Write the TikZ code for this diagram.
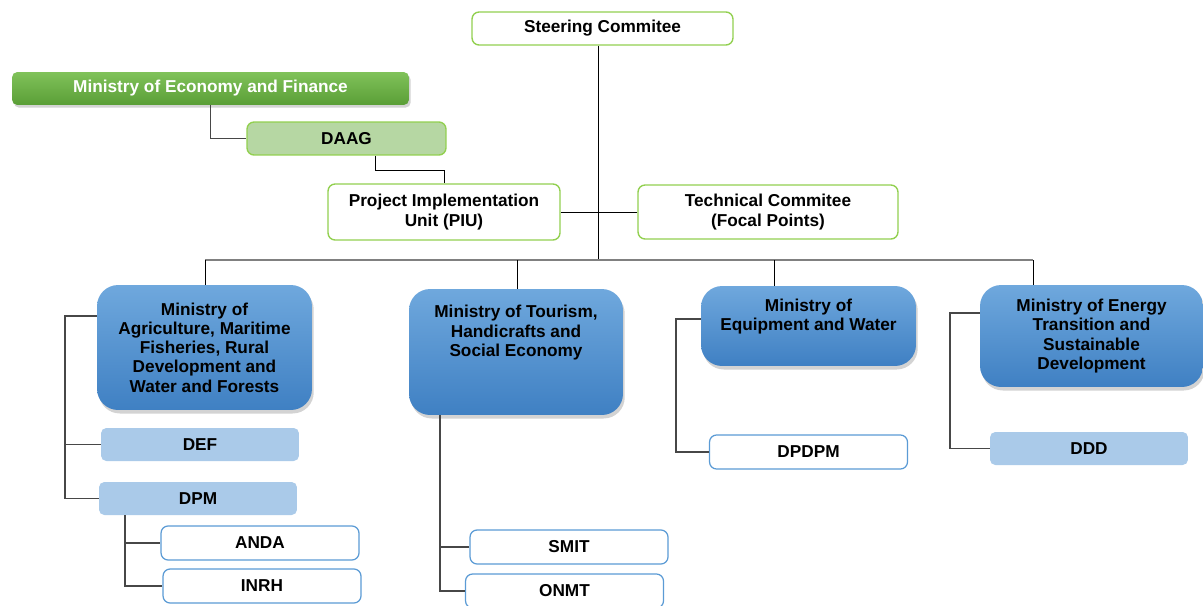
\documentclass[tikz,border=0pt]{standalone}
\usepackage{fontspec}
\setmainfont{Liberation Sans}
\usepackage{tikz}
\usetikzlibrary{shadows}

\definecolor{leaf}{HTML}{92D050}
\definecolor{leafpale}{HTML}{B6D7A3}
\definecolor{leaftop}{HTML}{80C25A}
\definecolor{leafbot}{HTML}{5A9E36}
\definecolor{skytop}{HTML}{6FA8DD}
\definecolor{skybot}{HTML}{3F80C3}
\definecolor{skypale}{HTML}{AACAE9}
\definecolor{skyline}{HTML}{5B9BD5}
\definecolor{wiregray}{HTML}{474747}

\tikzset{
orgtext/.style = {font=\fontsize{9.8}{11}\selectfont\bfseries, align=center},
greenbox/.style = {rectangle, rounded corners=4pt, draw=leaf, line width=0.8pt,
                   fill=white, inner sep=0pt, minimum width=#1, orgtext},
greenbox/.default = 4cm,
topbox/.style = {rectangle, rounded corners=3pt, draw=none, inner sep=0pt,
                 top color=leaftop, bottom color=leafbot, text=white,
                 drop shadow={shadow xshift=1pt, shadow yshift=-1.5pt, opacity=0.35},
                 minimum width=#1, orgtext},
ministry/.style = {rectangle, rounded corners=12pt, draw=none, inner sep=0pt,
                   top color=skytop, bottom color=skybot,
                   drop shadow={shadow xshift=1pt, shadow yshift=-2pt, opacity=0.35},
                   minimum width=#1, orgtext},
ministry/.default = 4.3cm,
dept/.style = {rectangle, rounded corners=3pt, fill=skypale, inner sep=0pt,
               minimum width=3.96cm, minimum height=0.66cm, orgtext},
office/.style = {rectangle, rounded corners=4pt, draw=skyline, line width=0.7pt,
                 fill=white, inner sep=0pt,
                 minimum width=3.96cm, minimum height=0.68cm, orgtext},
link/.style = {draw=wiregray, line width=1.1pt},
wire/.style = {draw=black, line width=0.5pt},
bus/.style = {draw=gray, line width=0.9pt}
}

\begin{document}
\begin{tikzpicture}[x=0.02cm, y=-0.02cm]
  \useasboundingbox (0,0) rectangle (1203,605);

  % Top of the chart
    \node[greenbox=5.22cm, minimum height=0.66cm] (steer) at (602.5,28.5) {Steering Commitee};
    \node[topbox=7.94cm, minimum height=0.66cm] (econ) at (210.5,88.5) {Ministry of Economy and Finance};
    \node[greenbox=3.98cm, minimum height=0.66cm, fill=leafpale] (daag) at (346.5,138.5) {DAAG};
    \node[greenbox=4.64cm, minimum height=1.12cm] (piu) at (444,212) {Project Implementation\\Unit (PIU)};
    \node[greenbox=5.2cm, minimum height=1.08cm] (tech) at (768,212) {Technical Commitee\\(Focal Points)};

  % Ministries
    \node[ministry, minimum height=2.5cm] (agri) at (204.5,347.5)
      {Ministry of\\Agriculture, Maritime\\Fisheries, Rural\\Development and\\Water and Forests};
    \node[ministry=4.28cm, minimum height=2.52cm,
          label={[orgtext, anchor=north, yshift=-6pt]north:{Ministry of Tourism,\\Handicrafts and\\Social Economy}}]
      (tour) at (516,352) {};
    \node[ministry, minimum height=1.6cm,
          label={[orgtext, anchor=north, yshift=-4pt]north:{Ministry of\\Equipment and Water}}]
      (equip) at (808.5,326) {};
    \node[ministry=4.46cm, minimum height=2.04cm] (energy) at (1091.5,336)
      {Ministry of Energy\\Transition and\\Sustainable\\Development};

  % Directorates and agencies
    \node[dept] (def) at (200,444.5) {DEF};
    \node[dept] (dpm) at (198,498.5) {DPM};
    \node[office] (anda) at (260,543) {ANDA};
    \node[office] (inrh) at (262,586) {INRH};
    \node[office] (smit) at (569,547) {SMIT};
    \node[office] (onmt) at (564.5,591) {ONMT};
    \node[office] (dpdpm) at (808.5,452) {DPDPM};
    \node[dept] (ddd) at (1089,448.5) {DDD};

  % Spine coordinates
    \coordinate (bus) at (598,260);
    \coordinate (agrispine) at (65,316);
    \coordinate (equipspine) at (676,319);
    \coordinate (energyspine) at (950,313);

  % Lines
    \draw[link] (econ) |- (daag);
    \draw[wire] (daag.south) ++(29,0) -- ++(0,15) -| (piu.north);
    \draw[wire] (steer.south -| bus) -- (bus);
    \draw[wire] (piu.east) -- (piu.east -| bus);
    \draw[wire] (tech.west) -- (tech.west -| bus);
    \draw[bus] (205,260) -- (1033,260);
    \foreach \x/\m in {205/agri, 517/tour, 774/equip, 1033/energy}
      \draw[wire] (\x,260) -- (\x,0 |- \m.north);

    \draw[link] (agri.west |- agrispine) -- (agrispine) |- (dpm.west);
    \draw[link] (agrispine |- def.west) -- (def.west);
    \draw[link] (125,0 |- dpm.south) |- (inrh.west);
    \draw[link] (125,0 |- anda.west) -- (anda.west);
    \draw[link] (440,0 |- tour.south) |- (onmt.west);
    \draw[link] (440,0 |- smit.west) -- (smit.west);
    \draw[link] (equip.west |- equipspine) -- (equipspine) |- (dpdpm.west);
    \draw[link] (energy.west |- energyspine) -- (energyspine) |- (ddd.west);
\end{tikzpicture}
\end{document}
